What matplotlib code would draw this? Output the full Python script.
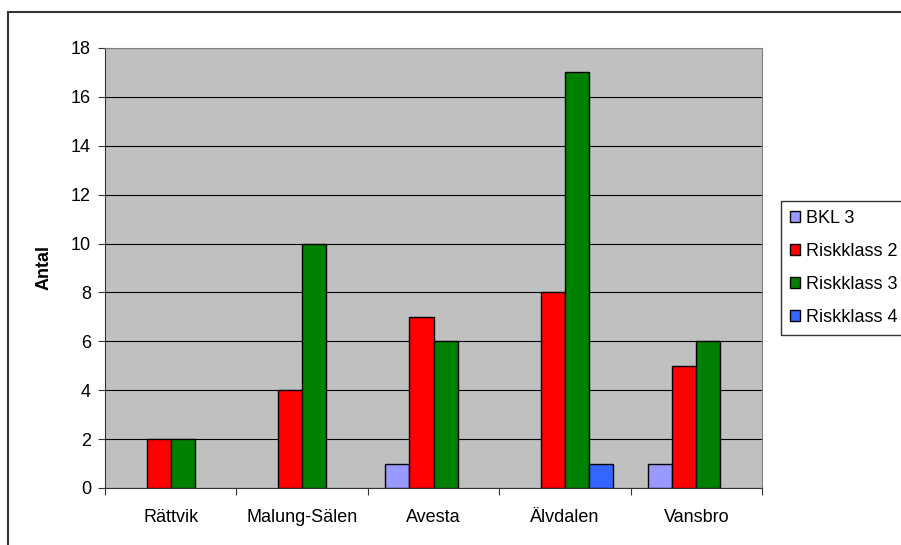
import matplotlib
matplotlib.use("Agg")
import matplotlib.pyplot as plt
import numpy as np
from matplotlib.patches import Rectangle

plt.rcParams['font.family'] = ['Liberation Sans', 'DejaVu Sans']

# data
categories = ["Rättvik", "Malung-Sälen", "Avesta", "Älvdalen", "Vansbro"]
series_names = ["BKL 3", "Riskklass 2", "Riskklass 3", "Riskklass 4"]
bkl3 = [0, 0, 1, 0, 1]
riskklass2 = [2, 4, 7, 8, 5]
riskklass3 = [2, 10, 6, 17, 6]
riskklass4 = [0, 0, 0, 1, 0]
series = [bkl3, riskklass2, riskklass3, riskklass4]
colors = ["#9999FF", "#FF0000", "#008000", "#3366FF"]

W, H = 901, 545
fig = plt.figure(figsize=(W / 100, H / 100), dpi=100)
# plot area in pixels: x 105..762, y 48..488
ax = fig.add_axes([105 / W, 1 - 488 / H, (762 - 105) / W, (488 - 48) / H])
ax.set_facecolor("#C0C0C0")

# outer chart border (only top and left visible in the reference)
fig.patches.append(Rectangle((8 / W, -0.1), 1.2, 1 - 12 / H + 0.1,
                             transform=fig.transFigure, fill=False,
                             edgecolor="#333333", linewidth=1.5))

x = np.arange(len(categories))
bw = 0.183
handles = []
for i, (vals, col, name) in enumerate(zip(series, colors, series_names)):
    bars = ax.bar(x + (i - 2) * bw, vals, width=bw, align='edge', color=col,
                  edgecolor='black', linewidth=1.0, zorder=3)
    # empty bars should not leave a line on the axis
    for b in bars:
        if b.get_height() == 0:
            b.set_visible(False)
    handles.append(Rectangle((0, 0), 1, 1, facecolor=col, edgecolor='black',
                             linewidth=1.0, label=name))

ax.set_xlim(-0.5, len(categories) - 0.5)
ax.set_ylim(0, 18)
ax.set_yticks(np.arange(0, 19, 2))
ax.yaxis.grid(True, color='black', linewidth=0.8, zorder=0)
ax.set_axisbelow(True)

fs = 13
ax.set_xticks(np.arange(-0.5, len(categories), 1.0))
ax.set_xticklabels([])
ax.set_xticks(x, minor=True)
ax.set_xticklabels(categories, minor=True)
ax.tick_params(axis='x', which='major', length=5, direction='out', color='#333333')
ax.tick_params(axis='x', which='minor', length=0, pad=15, labelsize=fs)
ax.tick_params(axis='y', length=5, direction='out', labelsize=fs, color='#333333', pad=5)

for side in ['top', 'right']:
    ax.spines[side].set_color('#808080')
for side in ['left', 'bottom']:
    ax.spines[side].set_color('#333333')

ax.set_ylabel("Antal", fontweight='bold', fontsize=fs, labelpad=13)

leg = fig.legend(handles=handles, loc='upper left',
                 bbox_to_anchor=(781 / W, 1 - 201 / H),
                 frameon=True, fancybox=False, fontsize=fs,
                 handlelength=0.55, handleheight=0.55, handletextpad=0.35,
                 labelspacing=0.88, borderpad=0.5, borderaxespad=0)
leg.get_frame().set_edgecolor('black')
leg.get_frame().set_linewidth(1.0)

fig.savefig("out.png", dpi=100)
